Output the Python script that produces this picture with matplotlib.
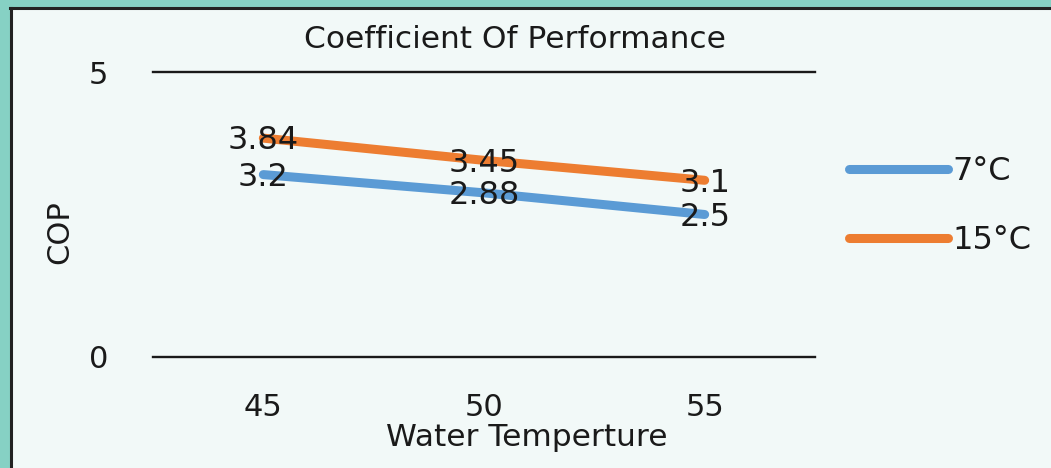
import matplotlib
matplotlib.use("Agg")
import matplotlib.pyplot as plt
from matplotlib.patches import Rectangle
from matplotlib.lines import Line2D

categories = ["45", "50", "55"]
series_names = ["7°C", "15°C"]
cop_7 = [3.2, 2.88, 2.5]
cop_15 = [3.84, 3.45, 3.1]
colors = ["#5B9BD5", "#ED7D31"]

plt.rcParams['font.family'] = ['DejaVu Sans']
W, H = 1051, 468
fig = plt.figure(figsize=(W / 100, H / 100), dpi=100)
fig.patch.set_facecolor("#f2f9f8")

# decorative frame: teal strips at top/left plus black border
fig.patches.append(Rectangle((0, 1 - 7 / H), 1, 7 / H, transform=fig.transFigure,
                             facecolor="#86d1c4", edgecolor="none", zorder=0))
fig.patches.append(Rectangle((0, 0), 10 / W, 1, transform=fig.transFigure,
                             facecolor="#86d1c4", edgecolor="none", zorder=0))
fig.lines.append(Line2D([10 / W, 1], [1 - 8 / H, 1 - 8 / H], transform=fig.transFigure,
                        color="#222222", lw=2.2))
fig.lines.append(Line2D([11 / W, 11 / W], [0, 1 - 8 / H], transform=fig.transFigure,
                        color="#222222", lw=2.2))

ax = fig.add_axes([153 / W, 1 - 357 / H, 662 / W, 285 / H])
ax.set_facecolor("none")
x = list(range(len(categories)))
for vals, name, c in zip([cop_7, cop_15], series_names, colors):
    ax.plot(x, vals, color=c, lw=6.5, solid_capstyle="round", label=name, zorder=3)
    for xi, v in zip(x, vals):
        ax.annotate(f"{v:g}", (xi, v), xytext=(0, -2), textcoords="offset points",
                    ha="center", va="center", fontsize=23, color="#1a1a1a", zorder=4)

ax.set_xlim(-0.5, len(categories) - 0.5)
ax.set_ylim(0, 5)
ax.set_yticks([0, 5])
ax.set_xticks(x)
ax.set_xticklabels(categories)
for s in ax.spines.values():
    s.set_visible(False)
for yv in [0, 5]:
    ax.axhline(yv, color="#1a1a1a", lw=1.7, zorder=2, clip_on=False)
ax.tick_params(axis="both", length=0, labelsize=22, colors="#1a1a1a")
ax.tick_params(axis="y", pad=32)
ax.tick_params(axis="x", pad=26)

fig.text(60 / W, 1 - 232 / H, "COP", rotation=90, ha="center", va="center",
         fontsize=22, color="#1a1a1a")
fig.text(527 / W, 1 - 437 / H, "Water Temperture", ha="center", va="center",
         fontsize=22.5, color="#1a1a1a")
fig.text(515 / W, 1 - 40 / H, "Coefficient Of Performance", ha="center", va="center",
         fontsize=22.5, color="#1a1a1a")

leg = ax.legend(loc="center left", bbox_to_anchor=(820 / W, 1 - 206 / H),
                bbox_transform=fig.transFigure, frameon=False, fontsize=23,
                handlelength=3.1, handletextpad=0.15, labelspacing=1.2)
for t in leg.get_texts():
    t.set_color("#1a1a1a")

fig.savefig("out.png", dpi=100, facecolor=fig.get_facecolor())
